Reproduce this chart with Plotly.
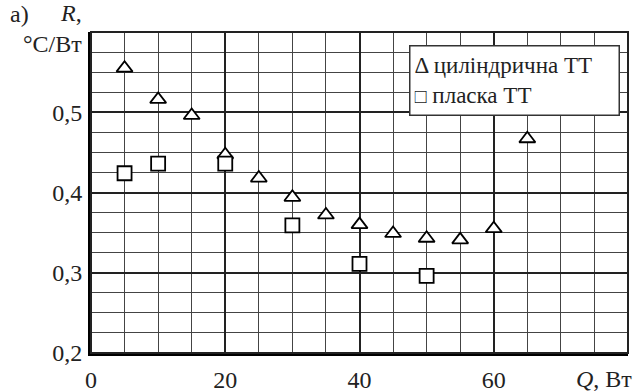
import plotly.graph_objects as go

# Data
q_cyl = [5, 10, 15, 20, 25, 30, 35, 40, 45, 50, 55, 60, 65]
r_cyl = [0.555, 0.516, 0.496, 0.447, 0.418, 0.394, 0.372, 0.360, 0.349, 0.343, 0.341, 0.355, 0.467]

q_flat = [5, 10, 20, 30, 40, 50]
r_flat = [0.424, 0.436, 0.436, 0.359, 0.311, 0.296]

x_tickvals = [0, 20, 40, 60]
x_ticktext = ["0", "20", "40", "60"]
y_tickvals = [0.2, 0.3, 0.4, 0.5]
y_ticktext = ["0,2", "0,3", "0,4", "0,5"]

FONT = "Liberation Serif, Times New Roman, serif"
FS = 24
W, H = 633, 392
ML, MR, MT, MB = 91, 5, 32, 39
PW, PH = W - ML - MR, H - MT - MB


def px(xp):
    return (xp - ML) / PW


def py(yp):
    return 1 - (yp - MT) / PH


fig = go.Figure()
fig.add_trace(go.Scatter(
    x=q_cyl, y=r_cyl, mode="markers", name="циліндрична ТТ",
    marker=dict(symbol="triangle-up", size=14, color="white",
                line=dict(color="black", width=1.8)),
    showlegend=False, cliponaxis=False))
fig.add_trace(go.Scatter(
    x=q_flat, y=r_flat, mode="markers", name="пласка ТТ",
    marker=dict(symbol="square", size=14, color="white",
                line=dict(color="black", width=1.8)),
    showlegend=False, cliponaxis=False))

fig.update_layout(
    width=W, height=H,
    margin=dict(l=ML, r=MR, t=MT, b=MB, pad=0, autoexpand=False),
    paper_bgcolor="white", plot_bgcolor="white",
    font=dict(family=FONT, size=FS, color="#222"),
    xaxis=dict(range=[0, 80], tickmode="array", tickvals=x_tickvals, ticktext=x_ticktext,
               showgrid=True, gridcolor="#222", gridwidth=2,
               minor=dict(dtick=5, tick0=0, showgrid=True, gridcolor="#444", gridwidth=1),
               showline=True, linecolor="black", linewidth=3, automargin=False,
               zeroline=False, ticks="", ticklabelstandoff=3),
    yaxis=dict(range=[0.2, 0.6], tickmode="array", tickvals=y_tickvals, ticktext=y_ticktext,
               showgrid=True, gridcolor="#222", gridwidth=2,
               minor=dict(dtick=0.025, tick0=0.2, showgrid=True, gridcolor="#444", gridwidth=1),
               showline=True, linecolor="black", linewidth=3, automargin=False,
               zeroline=False, ticks="", ticklabelstandoff=1),
    shapes=[dict(type="rect", xref="paper", yref="paper", x0=0, x1=1, y0=0, y1=1,
                 line=dict(color="#222", width=2), layer="above")],
)

legend_text = ("Δ циліндрична ТТ<br>"
               "<span style='font-size:20px'>□</span> пласка ТТ")
fig.add_annotation(
    xref="paper", yref="paper", x=px(409), y=py(45), xanchor="left", yanchor="top",
    text=legend_text, showarrow=False, align="left", valign="middle",
    width=200, height=60,
    bgcolor="white", bordercolor="#333", borderwidth=1.5, borderpad=4,
    font=dict(family=FONT, size=23, color="#222"))

fig.add_annotation(xref="paper", yref="paper", x=px(8), y=py(14), xanchor="left", yanchor="middle",
                   text="а)", showarrow=False, font=dict(family=FONT, size=FS, color="#222"))
fig.add_annotation(xref="paper", yref="paper", x=px(84), y=py(28), xanchor="right", yanchor="middle",
                   text="<i>R</i>,<br>°C/Вт", align="right", showarrow=False,
                   font=dict(family=FONT, size=FS, color="#222"))
fig.add_annotation(xref="paper", yref="paper", x=px(634), y=py(379), xanchor="right", yanchor="middle",
                   text="<i>Q</i>, Вт", showarrow=False, font=dict(family=FONT, size=FS, color="#222"))

fig.write_html("out.html", config={"displayModeBar": False},
               post_script="document.body.style.margin='0';document.body.style.padding='0';")
